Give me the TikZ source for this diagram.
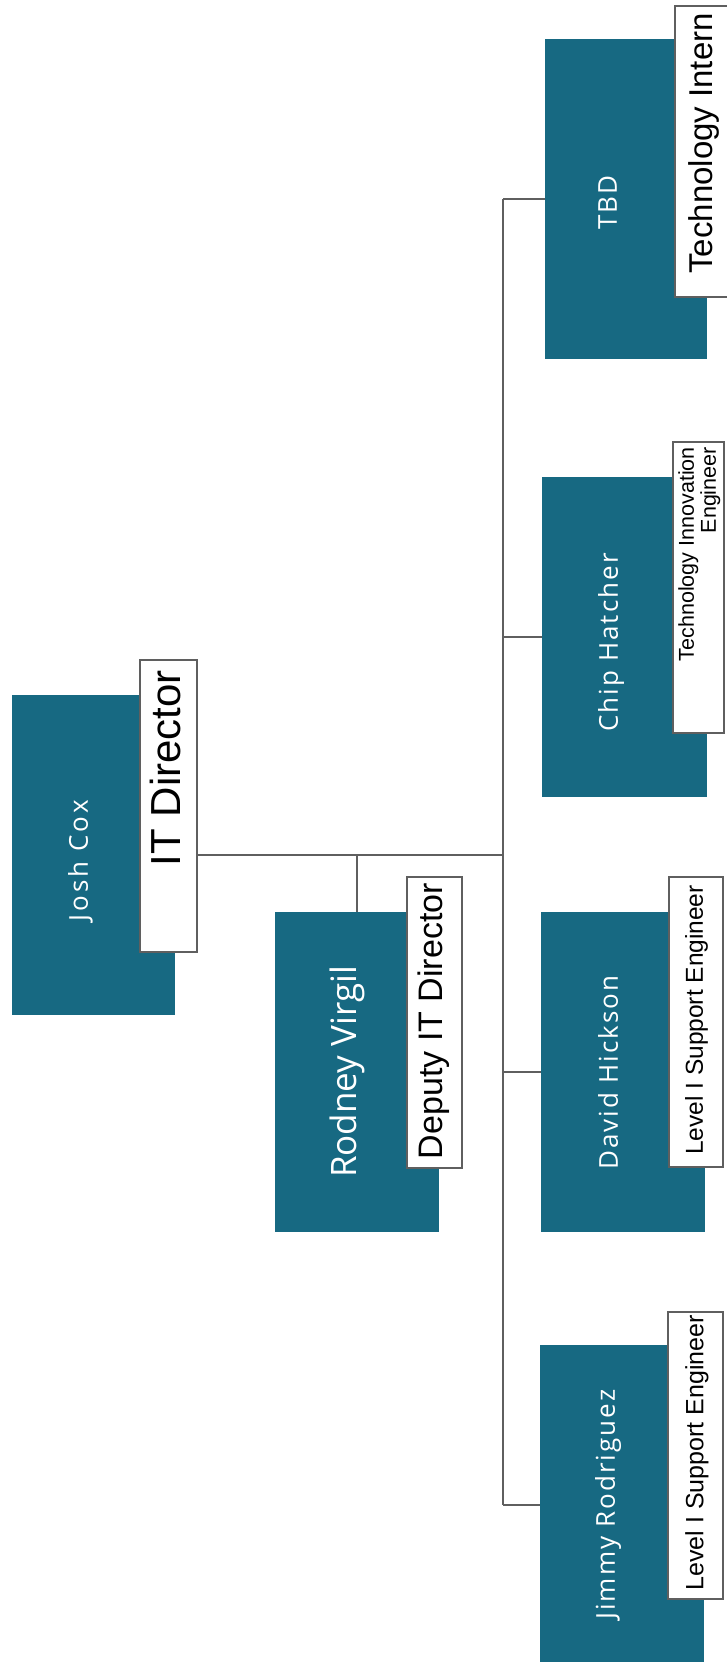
\documentclass[tikz,border=0pt]{standalone}
\usepackage{fontspec}
\setmainfont{Liberation Sans}
\newfontfamily\namefont[LetterSpace=8]{Open Sans}
\newfontfamily\joshfont[LetterSpace=12]{Open Sans}
\newfontfamily\rodfont{Open Sans}
\definecolor{tealc}{RGB}{23,105,130}
\definecolor{linec}{RGB}{95,95,95}
\begin{document}
\begin{tikzpicture}[x=1pt,y=-1pt,
  card/.style={fill=tealc, draw=none, inner sep=0pt, outer sep=0pt, anchor=north west},
  role/.style={fill=white, draw=linec, line width=1.2pt, inner sep=0pt, outer sep=0pt, anchor=north west},
  roletext/.style={rotate=90, inner sep=0pt, anchor=north east, text=black},
  nametext/.style={rotate=90, inner sep=0pt, anchor=north west, text=white},
  link/.style={draw=linec, line width=1.5pt}]
\useasboundingbox (0,0) rectangle (726,1662);
% teal cards
\node[card, minimum width=163pt, minimum height=320pt] (josh) at (12,695) {};
\node[card, minimum width=164pt, minimum height=320pt] (rv) at (275,912) {};
\node[card, minimum width=162pt, minimum height=320pt] (tbd) at (545,39) {};
\node[card, minimum width=165pt, minimum height=320pt] (chip) at (542,477) {};
\node[card, minimum width=164pt, minimum height=320pt] (dav) at (541,912) {};
\node[card, minimum width=164pt, minimum height=320pt] (jim) at (540,1345) {};
% connectors
\coordinate (hub) at (503,855);
% role boxes
\node[role, minimum width=57pt, minimum height=292pt] (jl) at (140,660) {};
\node[role, minimum width=55pt, minimum height=291pt] (rl) at (407,877) {};
\node[role, minimum width=60pt, minimum height=291pt] (tl) at (675,6) {};
\node[role, minimum width=51pt, minimum height=291pt] (cl) at (673,442) {};
\node[role, minimum width=54pt, minimum height=290pt] (dl) at (669,877) {};
\node[role, minimum width=55pt, minimum height=287pt] (jml) at (668,1312) {};
\draw[link] (jl.east |- hub) -- (hub);
\draw[link] (hub -| rv.north) -- (rv.north);
\draw[link] (hub |- tbd.west) -- (hub |- jim.west);
\foreach \n in {tbd,chip,dav,jim} \draw[link] (hub |- \n.west) -- (\n.west);
% names
\node[nametext, font=\joshfont\fontsize{26}{28}\selectfont] (joshn) at (68,922) {Josh Cox};
\node[nametext, font=\rodfont\fontsize{35}{37}\selectfont] (rvn) at (330,1178) {Rodney Virgil};
\node[nametext, font=\namefont\fontsize{26}{28}\selectfont] (tbdn) at (598,230) {TBD};
\node[nametext, font=\namefont\fontsize{26}{28}\selectfont] (chipn) at (598,732) {Chip Hatcher};
\node[nametext, font=\namefont\fontsize{26}{28}\selectfont] (davn) at (598,1170) {David Hickson};
\node[nametext, font=\namefont\fontsize{26}{28}\selectfont] (jimn) at (595,1620) {Jimmy Rodriguez};
% role texts
\node[roletext, font=\fontsize{42}{44}\selectfont] (jlt) at (150,670) {IT Director};
\node[roletext, font=\fontsize{34}{36}\selectfont] (rlt) at (418,883) {Deputy IT Director};
\node[roletext, font=\fontsize{33}{35}\selectfont] (tlt) at (688,13) {Technology Intern};
\node[roletext, align=right, font=\fontsize{21.5}{22}\selectfont] (clt) at (678,447) {Technology Innovation\\Engineer};
\node[roletext, font=\fontsize{24.5}{26}\selectfont] (dlt) at (685,885) {Level I Support Engineer};
\node[roletext, font=\fontsize{25}{27}\selectfont] (jmlt) at (685,1315) {Level I Support Engineer};
\end{tikzpicture}
\end{document}
